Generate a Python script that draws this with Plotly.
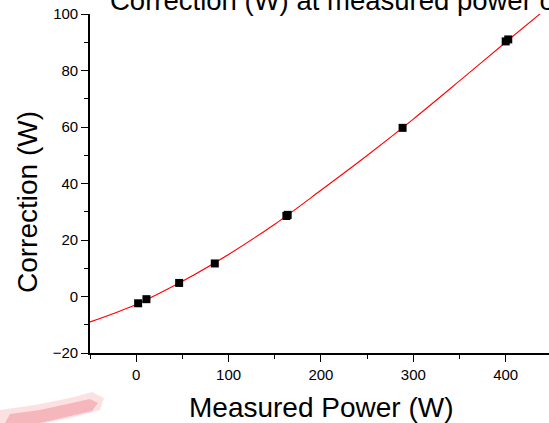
import plotly.graph_objects as go

power = [2.1, 11.1, 46.5, 85.1, 162.6, 164.0, 288.4, 400.0, 402.8]
correction = [-2.4, -0.95, 4.8, 11.7, 28.5, 28.9, 59.7, 90.3, 91.0]

# Fitted curve samples
fit_x = [-50, 0, 50, 100, 150, 200, 250, 300, 350, 400, 450]
fit_y = [-9.0, -2.8, 5.4, 14.9, 25.6, 37.6, 49.9, 62.8, 76.3, 90.0, 103.5]

title_text = "Correction (W) at measured power of"
x_title = "Measured Power (W)"
y_title = "Correction (W)"

FONT = "Liberation Sans, Arial, sans-serif"
W, H = 549, 423
ML, MR, MT, MB = 90, 0, 14, 70
PW, PH = W - ML - MR, H - MT - MB


def px(x):
    return (x - ML) / PW


def py(y):
    return (H - MB - y) / PH


def path(points):
    s = "M " + " L ".join(f"{px(a):.4f},{py(b):.4f}" for a, b in points) + " Z"
    return s


fig = go.Figure()
fig.add_trace(go.Scatter(
    x=fit_x, y=fit_y, mode="lines", line=dict(color="#ff0000", width=1.1, shape="spline"),
    hoverinfo="skip", showlegend=False))
fig.add_trace(go.Scatter(
    x=power, y=correction, mode="markers",
    marker=dict(symbol="square", size=8, color="#000000", line=dict(width=0)),
    showlegend=False))

axis_common = dict(
    showgrid=False, zeroline=False, showline=True, linecolor="#000000", linewidth=1.6,
    ticks="outside", ticklen=7, tickwidth=1.2, tickcolor="#000000",
    tickfont=dict(family=FONT, size=15, color="#000000"),
    automargin=False, fixedrange=True,
)

fig.update_xaxes(range=[-50, 446.9], dtick=100, tick0=0,
                 minor=dict(dtick=50, ticks="outside", ticklen=4, tickwidth=1.2, tickcolor="#000000"),
                 **axis_common)
fig.update_yaxes(range=[-20, 100], dtick=20, tick0=0,
                 minor=dict(dtick=10, ticks="outside", ticklen=4, tickwidth=1.2, tickcolor="#000000"),
                 **axis_common)

# faint pink blur in the lower-left corner of the picture
blob_outer = [(0, 423), (0, 410), (35, 405), (70, 398), (92, 392), (104, 398), (100, 410), (70, 418), (45, 423)]
blob_inner = [(5, 423), (10, 414), (40, 410), (72, 403), (90, 399), (98, 403), (92, 411), (62, 418), (40, 423)]

fig.update_layout(
    width=W, height=H,
    margin=dict(l=ML, r=MR, t=MT, b=MB, pad=0),
    paper_bgcolor="white", plot_bgcolor="white",
    font=dict(family=FONT, color="#000000"),
    shapes=[
        dict(type="path", xref="paper", yref="paper", path=path(blob_outer),
             fillcolor="rgba(245,170,175,0.35)", line=dict(width=0), layer="below"),
        dict(type="path", xref="paper", yref="paper", path=path(blob_inner),
             fillcolor="rgba(238,130,140,0.45)", line=dict(width=0), layer="below"),
    ],
    annotations=[
        dict(text=title_text, xref="paper", yref="paper", x=px(108.3), y=py(0.6),
             xanchor="left", yanchor="middle", showarrow=False,
             font=dict(family=FONT, size=27.5, color="#000000")),
        dict(text=x_title, xref="paper", yref="paper", x=px(321), y=py(407.5),
             xanchor="center", yanchor="middle", showarrow=False,
             font=dict(family=FONT, size=28, color="#000000")),
        dict(text=y_title, xref="paper", yref="paper", x=px(27), y=py(202),
             xanchor="center", yanchor="middle", showarrow=False, textangle=-90,
             font=dict(family=FONT, size=28, color="#000000")),
    ],
)

fig.write_html("out.html", config={"displayModeBar": False})
